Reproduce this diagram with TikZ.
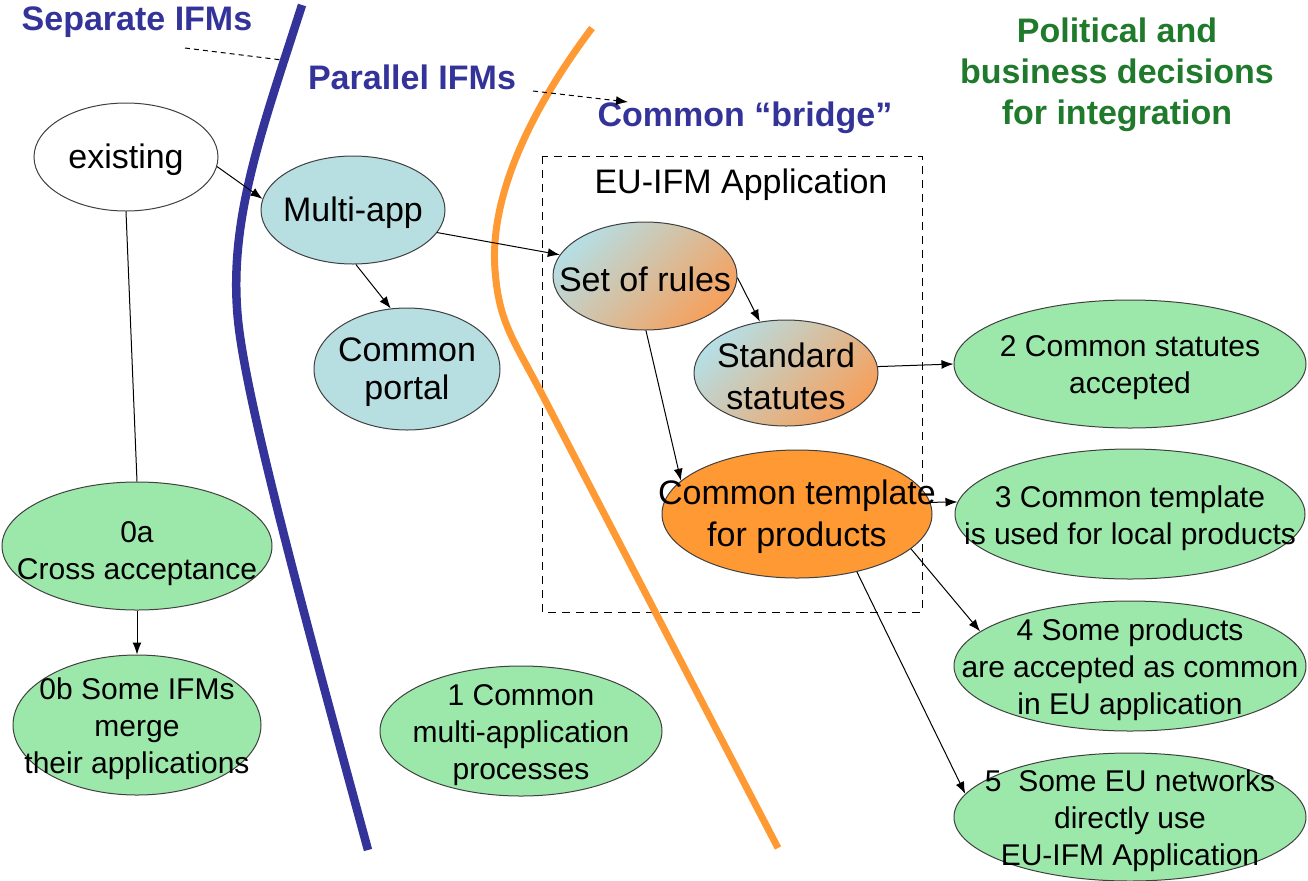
\documentclass[tikz,border=0pt]{standalone}
\usepackage{fontspec}
\setmainfont{Liberation Sans}
\usetikzlibrary{shapes.geometric,arrows.meta}
\definecolor{ifmblue}{RGB}{51,51,153}
\definecolor{ifmorange}{RGB}{255,153,51}
\definecolor{ifmgreen}{RGB}{156,232,170}
\definecolor{ifmcyan}{RGB}{183,223,226}
\definecolor{headgreen}{RGB}{31,122,43}
\definecolor{gradblue}{RGB}{182,222,228}
\definecolor{gradorange}{RGB}{246,160,92}
\tikzset{
  ell/.style={ellipse, draw=black!75, line width=0.5pt, inner sep=0pt},
  greenell/.style={ell, fill=ifmgreen},
  cyanell/.style={ell, fill=ifmcyan},
  orangeell/.style={ell, fill=ifmorange},
  gradell/.style={ell, top color=gradblue, bottom color=gradorange, shading angle=45},
  txtbig/.style={font=\fontsize{17}{21}\selectfont, align=center, inner sep=0pt, yshift=-1.5pt},
  txtsmall/.style={font=\fontsize{15}{18.5}\selectfont, align=center, inner sep=0pt, yshift=-2pt},
  head/.style={font=\bfseries\fontsize{17}{20.5}\selectfont, text=ifmblue, inner sep=0pt},
  conn/.style={-{Latex[length=6pt,width=4.5pt]}, line width=0.5pt},
  plainconn/.style={line width=0.5pt},
  dashconn/.style={line width=0.5pt, dash pattern=on 2.5pt off 2pt},
}
\begin{document}
\begin{tikzpicture}[x=0.5pt,y=-0.5pt]
\useasboundingbox (0,0) rectangle (1308,880);

% headings
\node[head] (hsep) at (137,22) {Separate IFMs};
\node[head] (hpar) at (412,77) {Parallel IFMs};
\node[head] (hbri) at (745,118) {Common “bridge”};
\node[head, text=headgreen, align=center] (hpol) at (1117,75) {Political and\\business decisions\\for integration};

% dashed box
\draw[line width=0.5pt, dash pattern=on 4pt off 3pt] (542,156) rectangle (922,612);
\node[txtbig] (boxlab) at (741,182) {EU-IFM Application};

% dashed pointer lines
\coordinate (d1a) at (185,48);
\coordinate (d1b) at (290,61);
\coordinate (d2a) at (533,91);
\coordinate (d2b) at (628,102);
\draw[dashconn] (d1a) -- (d1b);

% boundary curves
\draw[ifmblue, line width=4.25pt] (302,5) .. controls (262,130) and (228,220) .. (238,320)
  .. controls (246,400) and (300,600) .. (368,850);
\draw[ifmorange, line width=3.5pt] (592,28) .. controls (552,81) and (488,180) .. (495,270)
  .. controls (499,324) and (514,340) .. (545,400) -- (778,848);

\draw[dashconn, -{Latex[length=6pt,width=4.5pt]}] (d2a) -- (d2b);

% ellipses
\node[ell, fill=white, minimum width=92pt, minimum height=54pt] (ex) at (126,157) {};
\node[txtbig] (ext) at (ex) {existing};
\node[cyanell, minimum width=92pt, minimum height=54pt] (ma) at (353,210) {};
\node[txtbig] (mat) at (ma) {Multi-app};
\node[cyanell, minimum width=93pt, minimum height=61pt] (cp) at (407,369) {};
\node[txtbig, font=\fontsize{17}{19}\selectfont] (cpt) at (cp) {Common\\portal};
\node[gradell, minimum width=92pt, minimum height=54pt] (sr) at (645,276) {};
\node[txtbig] (srt) at (sr) {Set of rules};
\node[gradell, minimum width=92pt, minimum height=53pt] (ss) at (786,373) {};
\node[txtbig] (sst) at (ss) {Standard\\statutes};
\node[orangeell, minimum width=135pt, minimum height=64pt] (ct) at (797,514) {};
\node[txtbig] (ctt) at (ct) {Common template\\for products};

\node[greenell, minimum width=135pt, minimum height=64pt] (ea) at (137,546) {};
\node[txtsmall, yshift=-2pt] (eat) at (ea) {0a\\Cross acceptance};
\node[greenell, minimum width=124pt, minimum height=70pt] (eb) at (137,725) {};
\node[txtsmall] (ebt) at (eb) {0b Some IFMs\\merge\\their applications};
\node[greenell, minimum width=141pt, minimum height=65pt] (e1) at (521,731) {};
\node[txtsmall] (e1t) at (e1) {1 Common\\multi-application\\processes};
\node[greenell, minimum width=176pt, minimum height=64pt] (e2) at (1130,364) {};
\node[txtsmall] (e2t) at (e2) {2 Common statutes\\accepted};
\node[greenell, minimum width=175pt, minimum height=65pt] (e3) at (1130,514) {};
\node[txtsmall] (e3t) at (e3) {3 Common template\\is used for local products};
\node[greenell, minimum width=176pt, minimum height=65pt] (e4) at (1130,666) {};
\node[txtsmall] (e4t) at (e4) {4 Some products\\are accepted as common\\in EU application};
\node[greenell, minimum width=176pt, minimum height=64pt] (e5) at (1130,817) {};
\node[txtsmall] (e5t) at (e5) {5~ Some EU networks\\directly use\\EU-IFM Application};

% connectors
\draw[conn] (ex.-6) -- (ma.173);
\draw[plainconn] (ex.south) -- (ea.north);
\draw[conn] (ea.south) -- (eb.north);
\draw[conn] (ma.-87) -- (cp.105);
\draw[conn] (ma.-15) -- (sr.166);
\draw[conn] (sr.-1) -- (ss.117);
\draw[conn] (sr.-89) -- (ct.164);
\draw[conn] (ss.4) -- (e2.180);
\draw[conn] (ct.5) -- (e3.176);
\draw[conn] (ct.-17) -- (e4.167);
\draw[conn] (ct.-44) -- (e5.172);
\end{tikzpicture}
\end{document}
